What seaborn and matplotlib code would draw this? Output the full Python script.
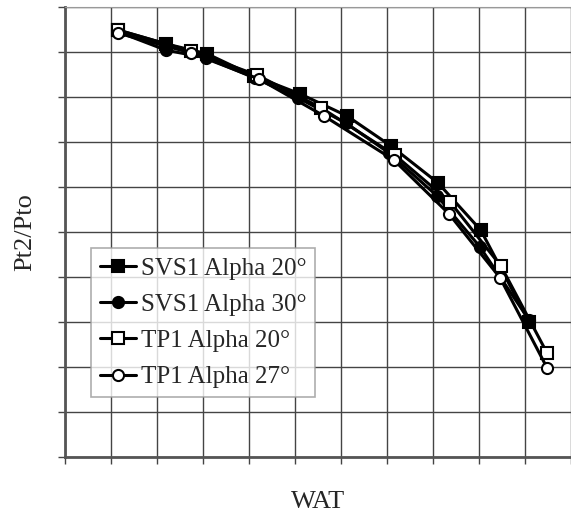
import seaborn as sns
import matplotlib.pyplot as plt
import pandas as pd

# values, in grid units
svs1_20_x = [1.15, 2.20, 3.09, 4.10, 5.11, 6.13, 7.09, 8.11, 9.04, 10.09]
svs1_20_y = [9.49, 9.18, 8.96, 8.47, 8.07, 7.58, 6.91, 6.09, 5.04, 3.00]
svs1_30_x = [1.15, 2.20, 3.07, 4.13, 5.07, 6.11, 7.04, 8.09, 9.02, 10.09]
svs1_30_y = [9.45, 9.04, 8.87, 8.42, 7.98, 7.42, 6.76, 5.80, 4.67, 3.04]
tp1_20_x = [1.15, 2.74, 4.17, 5.57, 7.17, 8.37, 9.48, 10.48]
tp1_20_y = [9.49, 9.02, 8.49, 7.76, 6.71, 5.67, 4.24, 2.31]
tp1_27_x = [1.15, 2.74, 4.22, 5.63, 7.15, 8.35, 9.46, 10.48]
tp1_27_y = [9.42, 8.98, 8.40, 7.58, 6.60, 5.40, 3.98, 1.98]

series = [
    ('SVS1 Alpha 20°', svs1_20_x, svs1_20_y, 's', 'black'),
    ('SVS1 Alpha 30°', svs1_30_x, svs1_30_y, 'o', 'black'),
    ('TP1 Alpha 20°', tp1_20_x, tp1_20_y, 's', 'white'),
    ('TP1 Alpha 27°', tp1_27_x, tp1_27_y, 'o', 'white'),
]

sns.set_style('white')
plt.rcParams['font.family'] = ['Liberation Serif', 'DejaVu Serif']

fig = plt.figure(figsize=(5.71, 5.12), dpi=100)
ax = fig.add_axes([0.1138, 0.1074, 0.8862, 0.8789])

for name, xs, ys, mk, face in series:
    df = pd.DataFrame({'WAT': xs, 'Pt2/Pto': ys})
    sns.lineplot(data=df, x='WAT', y='Pt2/Pto', ax=ax, color='black', linewidth=2.2,
                 marker=mk, markersize=8, markerfacecolor=face, markeredgecolor='black',
                 markeredgewidth=1.5, label=name, sort=False)

ax.set_xlim(0, 11)
ax.set_ylim(0, 10)
ax.set_xticks(range(0, 12))
ax.set_yticks(range(0, 11))
ax.set_xticklabels([])
ax.set_yticklabels([])
ax.grid(True, color='#444444', linewidth=1)
ax.tick_params(direction='out', length=5, width=1, color='#444444', left=True, bottom=True)

for s in ['left', 'bottom']:
    ax.spines[s].set_color('#555555')
    ax.spines[s].set_linewidth(2)
ax.spines['top'].set_color('#999999')
ax.spines['top'].set_linestyle((0, (2, 1)))
ax.spines['right'].set_visible(False)

ax.set_xlabel('WAT', fontsize=19, labelpad=16)
ax.set_ylabel('Pt2/Pto', fontsize=19, labelpad=12)

leg = ax.legend(loc='lower left', bbox_to_anchor=(0.051, 0.133), borderaxespad=0,
                fontsize=18, frameon=True, fancybox=False, handlelength=1.45,
                handletextpad=0.2, labelspacing=0.55, borderpad=0.35, numpoints=1)
leg.get_frame().set_edgecolor('#999999')
leg.get_frame().set_linewidth(1.2)

plt.savefig('out.png', dpi=100)
plt.close()
